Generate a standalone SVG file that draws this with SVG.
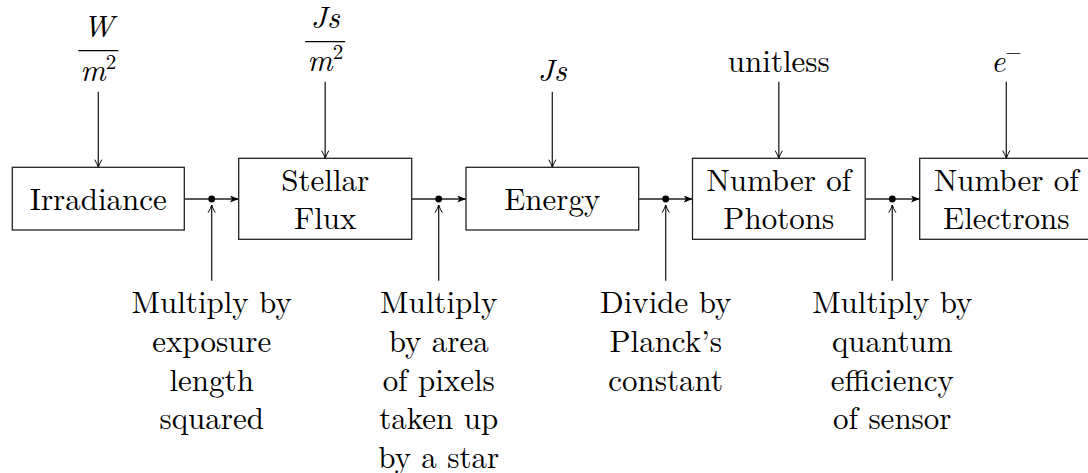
<svg xmlns="http://www.w3.org/2000/svg" width="1088" height="473" viewBox="0 0 1088 473" font-family="Latin Modern Roman, Liberation Serif, serif">
<style>
text{font-size:31px;fill:#000;text-anchor:middle}
.m{font-style:italic}
.box{fill:#fff;stroke:#222;stroke-width:1.3}
.c{fill:none;stroke:#222;stroke-width:1.3}
.bar{stroke:#000;stroke-width:1.3}
</style>
<defs>
<marker id="tri" viewBox="0 0 10 8" refX="10" refY="4" markerWidth="9" markerHeight="7" markerUnits="userSpaceOnUse" orient="auto">
<path d="M0,0 L10,4 L0,8 L2.5,4 z" fill="#000"/>
</marker>
<marker id="open" viewBox="0 0 10 10" refX="9.5" refY="5" markerWidth="9" markerHeight="9" markerUnits="userSpaceOnUse" orient="auto">
<path d="M1,1 Q6,4 9.5,5 Q6,6 1,9" fill="none" stroke="#000" stroke-width="1.1"/>
</marker>
</defs>
<rect width="1088" height="473" fill="#fff"/>

<g id="connectors">
<line class="c" x1="98.3" y1="91.7" x2="98.3" y2="167.3" marker-end="url(#open)"/>
<line class="c" x1="325.2" y1="81.7" x2="325.2" y2="158.3" marker-end="url(#open)"/>
<line class="c" x1="552.3" y1="91.7" x2="552.3" y2="167.3" marker-end="url(#open)"/>
<line class="c" x1="778.8" y1="81.7" x2="778.8" y2="158.3" marker-end="url(#open)"/>
<line class="c" x1="1006.3" y1="81.7" x2="1006.3" y2="158.3" marker-end="url(#open)"/>
<line class="c" x1="184.3" y1="199" x2="238.7" y2="199" marker-end="url(#tri)"/>
<line class="c" x1="411.7" y1="199" x2="466" y2="199" marker-end="url(#tri)"/>
<line class="c" x1="638.7" y1="199" x2="692.5" y2="199" marker-end="url(#tri)"/>
<line class="c" x1="865.2" y1="199" x2="919.7" y2="199" marker-end="url(#tri)"/>
<circle cx="211.7" cy="199" r="3.4" fill="#000"/>
<circle cx="438.7" cy="199" r="3.4" fill="#000"/>
<circle cx="665.7" cy="199" r="3.4" fill="#000"/>
<circle cx="892.3" cy="199" r="3.4" fill="#000"/>
<line class="c" x1="211.7" y1="280.7" x2="211.7" y2="205" marker-end="url(#open)"/>
<line class="c" x1="438.7" y1="280.7" x2="438.7" y2="205" marker-end="url(#open)"/>
<line class="c" x1="665.7" y1="280.7" x2="665.7" y2="205" marker-end="url(#open)"/>
<line class="c" x1="892.3" y1="280.7" x2="892.3" y2="205" marker-end="url(#open)"/>
</g>

<g id="irradiance">
<rect class="box" x="12.3" y="167.3" width="172" height="62.7"/>
<text x="98.3" y="210">Irradiance</text>
</g>
<g id="stellar-flux">
<rect class="box" x="238.7" y="158.3" width="173" height="81"/>
<text x="325.2" y="190.7">Stellar</text>
<text x="325.2" y="229.3">Flux</text>
</g>
<g id="energy">
<rect class="box" x="466" y="167.3" width="172.7" height="62.7"/>
<text x="552.3" y="210">Energy</text>
</g>
<g id="photons">
<rect class="box" x="692.5" y="158.3" width="172.7" height="81"/>
<text x="778.8" y="190.7">Number of</text>
<text x="778.8" y="229.3">Photons</text>
</g>
<g id="electrons">
<rect class="box" x="919.7" y="158.3" width="173.3" height="81"/>
<text x="1006.3" y="190.7">Number of</text>
<text x="1006.3" y="229.3">Electrons</text>
</g>

<g id="unit-irradiance">
<text class="m" x="98.3" y="36.7">W</text>
<line class="bar" x1="78.3" y1="50.7" x2="118.3" y2="50.7"/>
<text x="98.3" y="81"><tspan class="m">m</tspan><tspan font-size="21" dy="-12">2</tspan></text>
</g>
<g id="unit-flux">
<text class="m" x="325.2" y="28.3">Js</text>
<line class="bar" x1="305.2" y1="41.7" x2="345.2" y2="41.7"/>
<text x="325.2" y="71"><tspan class="m">m</tspan><tspan font-size="21" dy="-12">2</tspan></text>
</g>
<g id="unit-energy">
<text class="m" x="552.3" y="80.7">Js</text>
</g>
<g id="unit-photons">
<text x="778.8" y="71.7">unitless</text>
</g>
<g id="unit-electrons">
<text x="1006.3" y="71.7"><tspan class="m">e</tspan><tspan font-size="21" dy="-13">−</tspan></text>
</g>

<g id="op-exposure">
<text x="211.7" y="313.3">Multiply by</text>
<text x="211.7" y="352">exposure</text>
<text x="211.7" y="390.7">length</text>
<text x="211.7" y="429.3">squared</text>
</g>
<g id="op-area">
<text x="438.7" y="313.3">Multiply</text>
<text x="438.7" y="352">by area</text>
<text x="438.7" y="390.7">of pixels</text>
<text x="438.7" y="429.3">taken up</text>
<text x="438.7" y="468">by a star</text>
</g>
<g id="op-planck">
<text x="665.7" y="313.3">Divide by</text>
<text x="665.7" y="352">Planck’s</text>
<text x="665.7" y="390.7">constant</text>
</g>
<g id="op-qe">
<text x="892.3" y="313.3">Multiply by</text>
<text x="892.3" y="352">quantum</text>
<text x="892.3" y="390.7">efficiency</text>
<text x="892.3" y="429.3">of sensor</text>
</g>
</svg>
